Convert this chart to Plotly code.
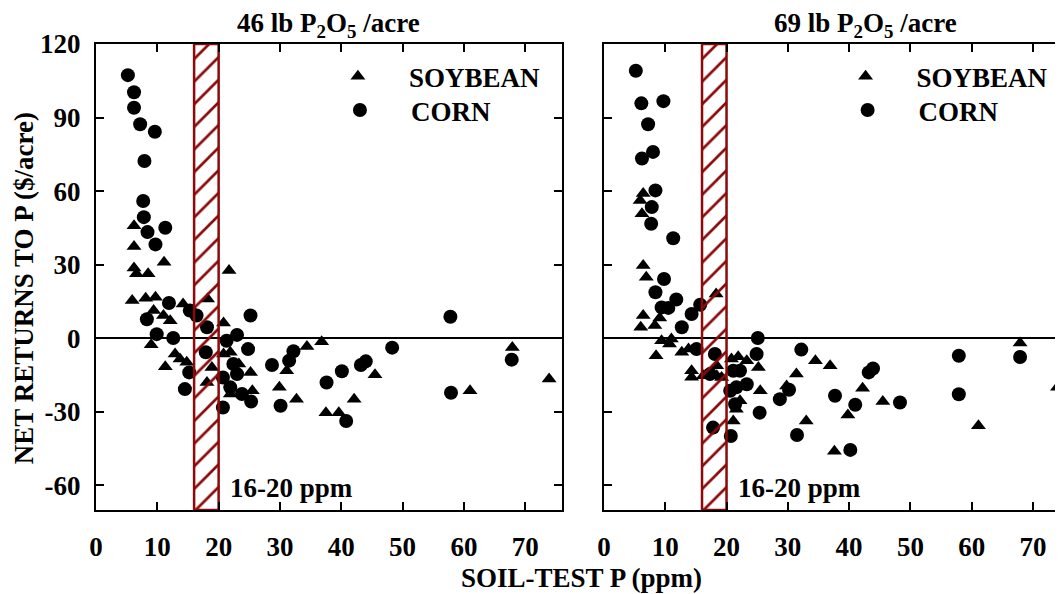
import plotly.graph_objects as go

# soil test P (ppm) and net returns ($/acre)
cornX46=[5.2,6.2,6.2,7.2,9.6,7.9,7.7,7.8,8.4,11.3,9.7,11.9,8.3,9.9,12.6,15.3,16.4,18.1,25.2,23.0,17.9,24.8,21.3,22.4,23.0,20.7,21.9,23.8,25.3,15.2,14.5,20.7,28.7,30.1,31.5,32.2,37.6,40.1,43.2,44.0,40.8,48.3,57.8,57.9,67.8]
cornY46=[107.3,100.3,94,87.3,84.2,72.3,56,49.4,43.3,45.1,38.3,14.4,7.8,1.7,0.1,11.3,9.3,4.5,9.3,1.4,-5.7,-4.4,-1,-10.5,-14.6,-16,-20,-22.7,-25.8,-13.9,-20.7,-28.2,-10.9,-27.5,-9.1,-5.3,-18,-13.4,-10.9,-9.4,-33.7,-3.8,8.8,-22.2,-8.7]
soyX46=[6.2,6.2,11.1,6.2,6.6,8.5,21.7,5.9,8.1,9.7,14.2,18.2,9.4,11.0,12.1,20.8,9.0,12.9,13.7,14.8,11.3,18.1,18.9,21.9,20.8,23.3,25.2,25.5,21.9,29.9,31.1,32.7,34.4,36.8,37.5,39.6,42.1,45.5,61.0,67.9,73.9]
soyY46=[45.9,37.4,31,28.7,26.3,26.3,27.6,15.4,16.3,16.7,14,16,11.3,9.3,7.2,6.2,-2.6,-6.4,-8.4,-9.8,-11.6,-18,-11.9,-5.7,-6.4,-10.5,-13.9,-21.4,-22.7,-20,-13.2,-24.8,-3.3,-1.4,-30.3,-30.3,-24.8,-14.9,-21.4,-3.7,-16.6]

cornX69=[5.2,6.1,9.7,7.2,8.0,6.2,8.4,7.8,7.7,11.3,9.8,8.4,11.8,9.4,10.5,15.7,14.3,12.7,15.1,18.1,17.3,25.1,24.9,21.1,22.2,23.3,21.6,20.6,21.4,25.4,28.7,17.8,20.7,32.2,30.2,37.7,41.0,43.2,43.9,48.3,57.9,57.9,67.9,31.5,40.2]
cornY69=[109.1,95.8,96.7,87.3,76,73.3,60.3,53.5,46.7,40.8,24.2,18.8,15.8,12.6,12.4,13.7,9.9,4.5,-4.4,-6.4,-14.6,0.1,-6.4,-13.2,-13.2,-18.7,-20,-21.4,-26.9,-30.3,-24.8,-36.4,-39.8,-4.6,-21,-23.4,-27.1,-13.9,-12.3,-26.2,-7.1,-22.8,-7.6,-39.4,-45.5]
soyX69=[6.4,5.9,6.2,6.4,6.9,18.3,6.4,6.0,8.3,9.1,9.4,11.0,10.7,8.5,12.7,13.8,14.3,14.3,16.2,18.4,18.4,19.2,20.8,21.9,23.3,25.2,25.5,22.2,21.6,21.1,29.8,34.5,36.9,31.4,42.2,39.8,33.0,45.5,61.1,67.9,74.0,37.6]
soyY69=[59,56.2,50.8,29.7,24.9,18.1,9.3,4.5,5.2,8.3,-1,-0.3,-2.3,-7.1,-5.7,-4.4,-13.2,-15.9,-15.3,-11.2,-15.3,-16,-8.4,-7.5,-9.1,-11.9,-21.4,-25.5,-28.9,-33.7,-19.4,-9.1,-11.2,-14.6,-20.4,-31.3,-33.7,-25.8,-35.7,-1.9,-20,-46]

bandLow=16
bandHigh=20
yLow=-70
yHigh=120
xTicks=[0,10,20,30,40,50,60,70]
yTicks=[-60,-30,0,30,60,90,120]
yTickText=['-60','-30','0','30','60','90','120']
titles=['46 lb P<sub>2</sub>O<sub>5</sub> /acre','69 lb P<sub>2</sub>O<sub>5</sub> /acre']

fontname='Liberation Serif, Times New Roman, serif'
red='#8b0a0a'
bold=dict(family=fontname,size=27,color='black',weight='bold')

fig=go.Figure()
# one legend box per entry so each row can sit where the original has it
panels=[(soyX46,soyY46,cornX46,cornY46,'x','y','legend','legend3'),(soyX69,soyY69,cornX69,cornY69,'x2','y2','legend2','legend4')]
for sx,sy,cx,cy,xa,ya,lgs,lgc in panels:
	fig.add_trace(go.Scatter(x=sx,y=sy,mode='markers',name='SOYBEAN',xaxis=xa,yaxis=ya,legend=lgs,
		marker=dict(symbol='triangle-up',size=13,color='black')))
	fig.add_trace(go.Scatter(x=cx,y=cy,mode='markers',name='CORN',xaxis=xa,yaxis=ya,legend=lgc,
		marker=dict(symbol='circle',size=14,color='black')))
	# hatched 16-20 ppm band, drawn on top of the points
	fig.add_trace(go.Scatter(x=[bandLow,bandLow,bandHigh,bandHigh,bandLow],y=[yLow,yHigh,yHigh,yLow,yLow],
		mode='lines',fill='toself',fillcolor='rgba(0,0,0,0)',showlegend=False,hoverinfo='skip',
		xaxis=xa,yaxis=ya,line=dict(color=red,width=2.5),
		fillpattern=dict(shape='/',fgcolor=red,bgcolor='rgba(0,0,0,0)',size=16,solidity=0.17,fillmode='overlay',fgopacity=1)))

axisstyle=dict(showline=True,linewidth=2,linecolor='black',ticks='inside',ticklen=8,tickwidth=2,tickcolor='black',
	showgrid=False,zeroline=False,tickfont=bold,automargin=False)
legendstyle=dict(xanchor='left',yanchor='top',bgcolor='rgba(0,0,0,0)',itemwidth=92,font=bold)
# page body adds 8px around the figure, so the figure is 8px smaller each way
fig.update_layout(
	width=1055,height=586,
	margin=dict(l=88,r=0,t=36,b=84),
	paper_bgcolor='white',plot_bgcolor='white',
	font=bold,
	xaxis=dict(axisstyle,domain=[0,0.4819],range=[0,76],tickvals=xTicks,mirror='allticks',ticklabelstandoff=12),
	xaxis2=dict(axisstyle,domain=[0.5253,1],range=[0,74.9],tickvals=xTicks,mirror='allticks',ticklabelstandoff=12),
	yaxis=dict(axisstyle,range=[yLow,yHigh],tickvals=yTicks,ticktext=yTickText,mirror='allticks',zeroline=True,zerolinecolor='black',zerolinewidth=2,ticklabelstandoff=8),
	yaxis2=dict(axisstyle,anchor='x2',range=[yLow,yHigh],tickvals=yTicks,showticklabels=False,zeroline=True,zerolinecolor='black',zerolinewidth=2),
	legend=dict(legendstyle,x=0.2181,y=0.9825),
	legend3=dict(legendstyle,x=0.2202,y=0.9099),
	legend2=dict(legendstyle,x=0.7431,y=0.9825),
	legend4=dict(legendstyle,x=0.7452,y=0.9099),
	showlegend=True
)

fig.add_annotation(text=titles[0],x=0.2406,y=1.041,xref='paper',yref='paper',showarrow=False,font=bold,xanchor='center',yanchor='middle')
fig.add_annotation(text=titles[1],x=0.7962,y=1.041,xref='paper',yref='paper',showarrow=False,font=bold,xanchor='center',yanchor='middle')
fig.add_annotation(text='SOIL-TEST P (ppm)',x=0.5016,y=-0.146,xref='paper',yref='paper',showarrow=False,font=bold,xanchor='center',yanchor='middle')
fig.add_annotation(text='NET RETURNS TO P ($/acre)',x=-0.0745,y=0.476,xref='paper',yref='paper',showarrow=False,textangle=-90,font=bold,xanchor='center',yanchor='middle')
fig.add_annotation(text='16-20 ppm',x=21.5,y=-61,xref='x',yref='y',showarrow=False,xanchor='left',font=bold)
fig.add_annotation(text='16-20 ppm',x=21.5,y=-61,xref='x2',yref='y2',showarrow=False,xanchor='left',font=bold)

fig.write_html("out.html")
